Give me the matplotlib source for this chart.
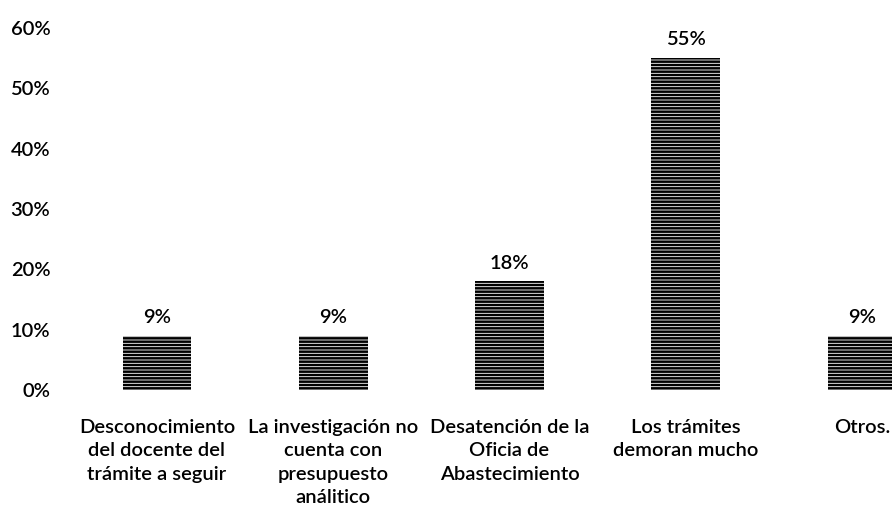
import matplotlib
matplotlib.use("Agg")
import matplotlib.pyplot as plt

plt.rcParams['font.family'] = ['Lato', 'DejaVu Sans']
plt.rcParams['hatch.linewidth'] = 1.8

categories = [
    "Desconocimiento\ndel docente del\ntrámite a seguir",
    "La investigación no\ncuenta con\npresupuesto\nanálitico",
    "Desatención de la\nOficia de\nAbastecimiento",
    "Los trámites\ndemoran mucho",
    "Otros.",
]
values = [0.09, 0.09, 0.18, 0.55, 0.09]
value_labels = ["9%", "9%", "18%", "55%", "9%"]
y_ticks = [0, 0.1, 0.2, 0.3, 0.4, 0.5, 0.6]
y_tick_labels = ["0%", "10%", "20%", "30%", "40%", "50%", "60%"]

FS = 14.5
TXT = dict(fontsize=FS, color="black", fontweight="semibold")

fig = plt.figure(figsize=(8.92, 5.15), dpi=100)
ax = fig.add_axes([60 / 892, 1 - 390 / 515, 832 / 892, (390 - 28) / 515])

x = list(range(len(categories)))
bars = ax.bar(x, values, width=0.39, color="white", edgecolor="black",
              linewidth=0, hatch="-----")

for b, lab in zip(bars, value_labels):
    ax.annotate(lab, (b.get_x() + b.get_width() / 2, b.get_height()),
                xytext=(0, 7), textcoords="offset points",
                ha="center", va="bottom", **TXT)

ax.set_xlim(-0.55, 4.17)
ax.set_ylim(0, 0.6)
ax.set_yticks(y_ticks)
ax.set_yticklabels(y_tick_labels, **TXT)
ax.set_xticks(x)
ax.set_xticklabels(categories, linespacing=1.45, **TXT)
ax.tick_params(axis="both", length=0)
ax.tick_params(axis="x", pad=21)
ax.tick_params(axis="y", pad=7)
for s in ax.spines.values():
    s.set_visible(False)

fig.savefig("out.png", dpi=100)
